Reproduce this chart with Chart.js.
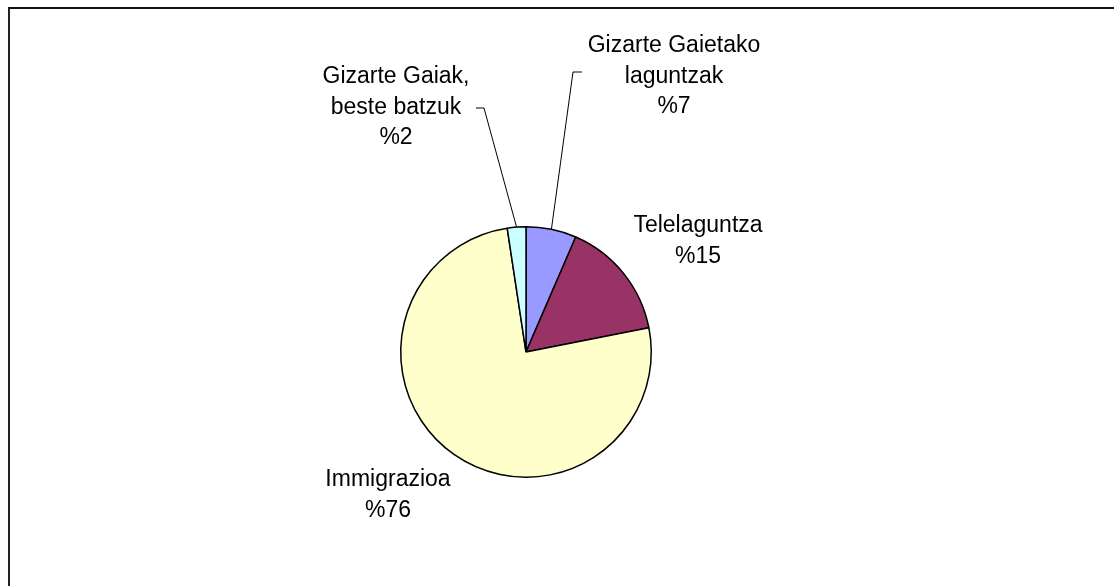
<!DOCTYPE html>
<html>
<head>
<meta charset="utf-8">
<script src="https://cdn.jsdelivr.net/npm/chart.js@4.4.1/dist/chart.umd.min.js"></script>
<style>
    html, body { margin: 0; padding: 0; background: #fff; overflow: hidden; }
    #frame {
        position: absolute; left: 8px; top: 7px; width: 1200px; height: 700px;
        border-left: 2px solid #222; border-top: 2px solid #111;
    }
    #wrap { position: absolute; left: 0; top: 0; width: 1114px; height: 586px; }
</style>
</head>
<body>
<div id="frame"></div>
<div id="wrap"><canvas id="chart" width="1114" height="586"></canvas></div>
<script>
let categories = ['Gizarte Gaietako laguntzak', 'Telelaguntza', 'Immigrazioa', 'Gizarte Gaiak, beste batzuk'];
let values = [6.5, 15.4, 75.7, 2.4];
let percentLabels = ['%7', '%15', '%76', '%2'];
let labelLines = [
    ['Gizarte Gaietako', 'laguntzak'],
    ['Telelaguntza'],
    ['Immigrazioa'],
    ['Gizarte Gaiak,', 'beste batzuk']
];
let colors = ['#9999FF', '#993366', '#FFFFCC', '#CCFFFF'];

// label placement (center x, first baseline y) and leader elbow
let labelPos = [
    { x: 674, y: 52, elbow: [[582, 72], [573, 72]] },
    { x: 698, y: 232, elbow: null },
    { x: 388, y: 486, elbow: null },
    { x: 396, y: 83, elbow: [[476, 108], [484, 108]] }
];

let labelPlugin = {
    id: 'labelPlugin',
    afterDatasetsDraw: (chart) => {
        let ctx = chart.ctx;
        let meta = chart.getDatasetMeta(0);
        ctx.save();
        ctx.font = '23px "Liberation Sans", Arial, sans-serif';
        ctx.fillStyle = '#000';
        ctx.textAlign = 'center';
        ctx.textBaseline = 'alphabetic';

        meta.data.forEach((arc, i) => {
            let pos = labelPos[i];
            let lines = labelLines[i].concat([percentLabels[i]]);
            lines.forEach((line, j) => {
                ctx.fillText(line, pos.x, pos.y + j * 30.5);
            });

            if (pos.elbow) {
                let mid = (arc.startAngle + arc.endAngle) / 2;
                let px = arc.x + Math.cos(mid) * arc.outerRadius;
                let py = arc.y + Math.sin(mid) * arc.outerRadius;
                ctx.strokeStyle = '#000';
                ctx.lineWidth = 1;
                ctx.beginPath();
                ctx.moveTo(pos.elbow[0][0], pos.elbow[0][1]);
                ctx.lineTo(pos.elbow[1][0], pos.elbow[1][1]);
                ctx.lineTo(px, py);
                ctx.stroke();
            }
        });
        ctx.restore();
    }
};

let chart = document.getElementById('chart');

let myChart = new Chart(chart, {
    type: 'pie',
    data: {
        labels: categories,
        datasets: [{
            data: values,
            backgroundColor: colors,
            borderColor: '#000',
            borderWidth: 1.5
        }]
    },
    options: {
        responsive: false,
        animation: false,
        devicePixelRatio: 1,
        layout: {
            padding: { left: 400, right: 462, top: 226, bottom: 108 }
        },
        plugins: {
            legend: { display: false },
            tooltip: { enabled: false }
        }
    },
    plugins: [labelPlugin]
});
</script>
</body>
</html>
